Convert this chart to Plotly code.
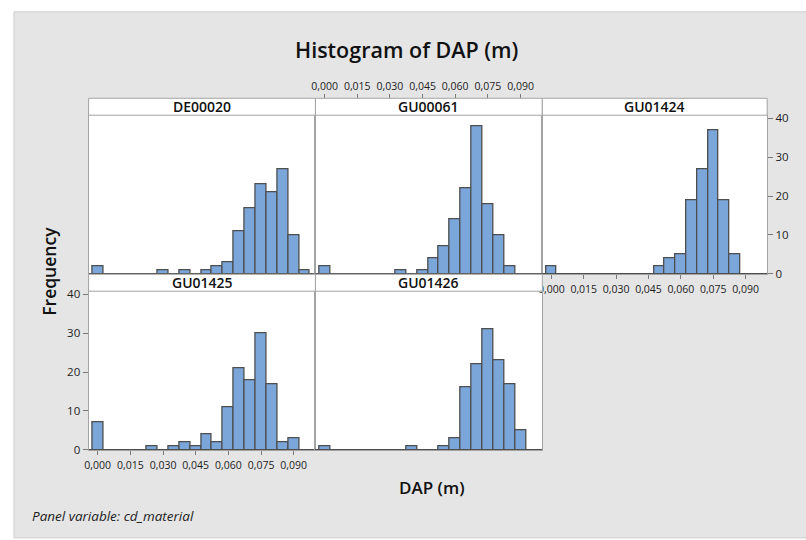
import plotly.graph_objects as go

# ---------------- data ----------------
bin_centers = [0.000, 0.005, 0.010, 0.015, 0.020, 0.025, 0.030, 0.035, 0.040, 0.045,
               0.050, 0.055, 0.060, 0.065, 0.070, 0.075, 0.080, 0.085, 0.090, 0.095]
materials = ["DE00020", "GU00061", "GU01424", "GU01425", "GU01426"]
counts_DE00020 = [2, 0, 0, 0, 0, 0, 1, 0, 1, 0, 1, 2, 3, 11, 17, 23, 21, 27, 10, 1]
counts_GU00061 = [2, 0, 0, 0, 0, 0, 0, 1, 0, 1, 4, 7, 14, 22, 38, 18, 10, 2, 0, 0]
counts_GU01424 = [2, 0, 0, 0, 0, 0, 0, 0, 0, 0, 2, 4, 5, 19, 27, 37, 19, 5, 0, 0]
counts_GU01425 = [7, 0, 0, 0, 0, 1, 0, 1, 2, 1, 4, 2, 11, 21, 18, 30, 17, 2, 3, 0]
counts_GU01426 = [1, 0, 0, 0, 0, 0, 0, 0, 1, 0, 0, 1, 3, 16, 22, 31, 23, 17, 5, 0]
x_tickvals = [0.000, 0.015, 0.030, 0.045, 0.060, 0.075, 0.090]
y_tickvals = [0, 10, 20, 30, 40]

all_counts = [counts_DE00020, counts_GU00061, counts_GU01424, counts_GU01425, counts_GU01426]

# ---------------- layout geometry (pixels) ----------------
W, H = 806, 540
FONT = "Open Sans"
cols = [(85, 313), (313, 541), (541, 767)]
rows = [(112.7, 275.0), (292.7, 455.0)]   # plot area (top, bottom)
strip_h = 17.3
panel_pos = [(0, 0), (0, 1), (0, 2), (1, 0), (1, 1)]  # (row, col)


def px(x):
    return x / W


def py(y):
    return 1 - y / H


XR = [-0.0042, 0.1]
YR = [0, 40.8]
BAR_FILL = "#7ba6da"
BAR_LINE = "#4e4e4e"
BORDER = "#a3a3a3"

fig = go.Figure()
layout_axes = {}
shapes = []
annotations = []

# background frame
shapes.append(dict(type="rect", xref="paper", yref="paper", x0=px(10), x1=px(W + 5),
                   y0=py(7), y1=py(H + 5), fillcolor="#e5e5e5",
                   line=dict(color="#cfcfcf", width=1), layer="below"))

for i, (name, cnts) in enumerate(zip(materials, all_counts)):
    r, c = panel_pos[i]
    n = i + 1
    xa = "x" if n == 1 else f"x{n}"
    ya = "y" if n == 1 else f"y{n}"
    fig.add_trace(go.Bar(x=bin_centers, y=cnts, xaxis=xa, yaxis=ya, width=0.005,
                         marker=dict(color=BAR_FILL, line=dict(color=BAR_LINE, width=1.3)),
                         showlegend=False, hoverinfo="x+y"))
    x0, x1 = cols[c]
    y0, y1 = rows[r]
    # white panel background
    shapes.append(dict(type="rect", xref="paper", yref="paper", x0=px(x0), x1=px(x1),
                       y0=py(y1), y1=py(y0), fillcolor="white",
                       line=dict(width=0), layer="below"))
    show_x = (n in (3, 4))
    show_y_left = (n == 4)
    show_y_right = (n == 3)
    layout_axes[f"xaxis{'' if n == 1 else n}"] = dict(
        domain=[px(x0), px(x1)], range=XR, anchor=ya,
        showline=True, mirror=True, linecolor=BORDER, linewidth=1,
        showgrid=False, zeroline=False,
        tickmode="array", tickvals=x_tickvals, tickformat=".3f",
        ticks="outside" if show_x else "", ticklen=4, tickcolor="#7a7a7a",
        showticklabels=show_x, ticklabelstandoff=2,
        tickfont=dict(family=FONT, size=10.5, color="#1e1e1e"))
    layout_axes[f"yaxis{'' if n == 1 else n}"] = dict(
        domain=[py(y1), py(y0)], range=YR, anchor=xa,
        side="right" if show_y_right else "left",
        showline=True, mirror=True, linecolor=BORDER, linewidth=1,
        showgrid=False, zeroline=True, zerolinecolor=BAR_LINE, zerolinewidth=1,
        tickmode="array", tickvals=y_tickvals,
        ticks="outside" if (show_y_left or show_y_right) else "", ticklen=5, tickcolor="#7a7a7a",
        showticklabels=(show_y_left or show_y_right),
        tickfont=dict(family=FONT, size=11.5, color="#1e1e1e"))
    # strip
    shapes.append(dict(type="rect", xref="paper", yref="paper",
                       x0=px(x0), x1=px(x1), y0=py(y0), y1=py(y0 - strip_h),
                       fillcolor="white", line=dict(color=BORDER, width=1), layer="above"))
    annotations.append(dict(text=name, xref="paper", yref="paper",
                            x=px((x0 + x1) / 2), y=py(y0 - strip_h / 2),
                            xanchor="center", yanchor="middle", showarrow=False,
                            font=dict(family=FONT, size=14, weight=600, color="#111")))

# top axis above GU00061 strip
fig.add_trace(go.Scatter(x=[None], y=[None], xaxis="x6", yaxis="y2",
                         showlegend=False, hoverinfo="skip"))
layout_axes["xaxis6"] = dict(
    domain=[px(cols[1][0]), px(cols[1][1])], range=XR, anchor="free",
    position=py(rows[0][0] - strip_h), side="top",
    showline=False, showgrid=False, zeroline=False,
    tickmode="array", tickvals=x_tickvals, tickformat=".3f",
    ticks="outside", ticklen=4, tickcolor="#7a7a7a", showticklabels=True,
    tickfont=dict(family=FONT, size=10.5, color="#1e1e1e"))

# titles
annotations.append(dict(text="Histogram of DAP (m)", xref="paper", yref="paper",
                        x=px(405), y=py(45), xanchor="center", yanchor="middle",
                        showarrow=False, font=dict(family=FONT, size=21.5, weight=600, color="#111")))
annotations.append(dict(text="Frequency", xref="paper", yref="paper",
                        x=px(45), y=py(272), xanchor="center", yanchor="middle",
                        textangle=-90, showarrow=False,
                        font=dict(family=FONT, size=17.5, weight=600, color="#111")))
annotations.append(dict(text="DAP (m)", xref="paper", yref="paper",
                        x=px(430), y=py(493), xanchor="center", yanchor="middle",
                        showarrow=False, font=dict(family=FONT, size=17, weight=600, color="#111")))
annotations.append(dict(text="<i>Panel variable: cd_material</i>", xref="paper", yref="paper",
                        x=px(26), y=py(523), xanchor="left", yanchor="middle",
                        showarrow=False, font=dict(family=FONT, size=13.5, color="#222")))

fig.update_layout(
    width=W, height=H, margin=dict(l=0, r=0, t=0, b=0),
    paper_bgcolor="white", plot_bgcolor="rgba(0,0,0,0)",
    bargap=0, separators=", ",
    shapes=shapes, annotations=annotations,
    **layout_axes)

fig.write_html("out.html")
